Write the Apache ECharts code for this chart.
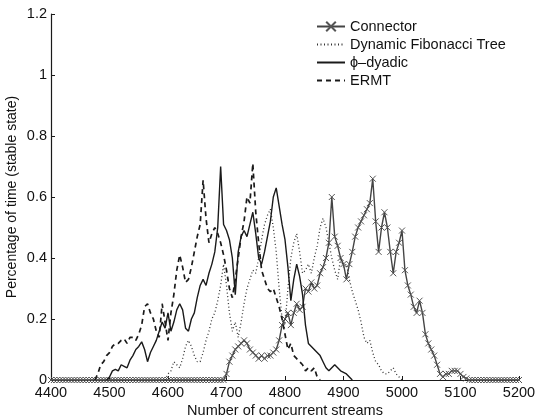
<!DOCTYPE html>
<html>
<head>
<meta charset="utf-8">
<script src="https://cdn.jsdelivr.net/npm/echarts@6/dist/echarts.min.js"></script>
<style>
  html, body { margin: 0; padding: 0; background: #fff; }
  #chart { width: 536px; height: 419px; }
</style>
</head>
<body>
<div id="chart"></div>
<script>
// x sampling step (streams) used by every series
var step = 5;

var xTicks = [4400, 4500, 4600, 4700, 4800, 4900, 5000, 5100, 5200];
var yTicks = [0, 0.2, 0.4, 0.6, 0.8, 1, 1.2];

var names = ['Connector', 'Dynamic Fibonacci Tree', '\u03d5\u2013dyadic', 'ERMT'];

// Connector: 4400 .. 5200
var connectorStart = 4400;
var connectorY = [
    0, 0, 0, 0, 0, 0, 0, 0, 0, 0,
    0, 0, 0, 0, 0, 0, 0, 0, 0, 0,
    0, 0, 0, 0, 0, 0, 0, 0, 0, 0,
    0, 0, 0, 0, 0, 0, 0, 0, 0, 0,
    0, 0, 0, 0, 0, 0, 0, 0, 0, 0,
    0, 0, 0, 0, 0, 0, 0, 0, 0, 0,
    0.02, 0.06, 0.08, 0.10, 0.11, 0.12, 0.13, 0.12, 0.10, 0.09,
    0.08, 0.07, 0.08, 0.07, 0.08, 0.08, 0.09, 0.10, 0.13, 0.18,
    0.20, 0.22, 0.18, 0.22, 0.25, 0.23, 0.24, 0.30, 0.29, 0.32,
    0.30, 0.31, 0.35, 0.37, 0.40, 0.45, 0.60, 0.47, 0.44, 0.40,
    0.38, 0.33, 0.38, 0.42, 0.47, 0.50, 0.52, 0.54, 0.56, 0.58,
    0.66, 0.52, 0.42, 0.50, 0.55, 0.50, 0.42, 0.35, 0.42, 0.45,
    0.49, 0.36, 0.31, 0.28, 0.24, 0.22, 0.26, 0.22, 0.15, 0.12,
    0.10, 0.08, 0.05, 0.02, 0.01, 0.02, 0.02, 0.03, 0.03, 0.03,
    0.02, 0.01, 0.005,
    0, 0, 0, 0, 0, 0, 0, 0, 0, 0,
    0, 0, 0, 0, 0, 0, 0, 0
];

// Dynamic Fibonacci Tree: 4595 .. 5000
var fiboStart = 4595;
var fiboY = [
    0, 0.02, 0.03, 0.06, 0.05, 0.04, 0.07, 0.11, 0.13, 0.11,
    0.08, 0.06, 0.06, 0.09, 0.13, 0.16, 0.20, 0.22, 0.26, 0.31,
    0.38, 0.31, 0.22, 0.16, 0.19, 0.14, 0.19, 0.25, 0.30, 0.33,
    0.36, 0.35, 0.40, 0.46, 0.51, 0.54, 0.56, 0.50, 0.42, 0.30,
    0.20, 0.18, 0.30, 0.40, 0.45, 0.48, 0.42, 0.35, 0.36, 0.38,
    0.35, 0.40, 0.44, 0.50, 0.53, 0.50, 0.45, 0.40, 0.36, 0.33,
    0.40, 0.37, 0.38, 0.33, 0.29, 0.26, 0.23, 0.19, 0.14, 0.12,
    0.13, 0.09, 0.06, 0.05, 0.03, 0.02, 0.02, 0.03, 0.04, 0.02,
    0.01, 0
];

// phi-dyadic: 4495 .. 4915
var dyadicStart = 4495;
var dyadicY = [
    0, 0.01, 0.03, 0.035, 0.03, 0.05, 0.045, 0.04, 0.065, 0.08,
    0.10, 0.11, 0.125, 0.10, 0.06, 0.09, 0.11, 0.13, 0.16, 0.19,
    0.17, 0.22, 0.16, 0.19, 0.23, 0.25, 0.23, 0.17, 0.16, 0.20,
    0.22, 0.27, 0.31, 0.33, 0.31, 0.35, 0.38, 0.42, 0.50, 0.70,
    0.51, 0.49, 0.46, 0.40, 0.28, 0.42, 0.47, 0.49, 0.47, 0.51,
    0.55, 0.48, 0.40, 0.38, 0.42, 0.47, 0.52, 0.60, 0.63, 0.57,
    0.51, 0.46, 0.37, 0.26, 0.33, 0.38, 0.34, 0.28, 0.18, 0.12,
    0.11, 0.10, 0.09, 0.08, 0.06, 0.04, 0.03, 0.04, 0.05, 0.04,
    0.03, 0.025, 0.02, 0.01, 0
];

// ERMT: 4475 .. 4860
var ermtStart = 4475;
var ermtY = [
    0, 0.02, 0.05, 0.06, 0.08, 0.09, 0.11, 0.12, 0.12, 0.13,
    0.135, 0.12, 0.14, 0.14, 0.13, 0.15, 0.18, 0.24, 0.25, 0.22,
    0.20, 0.16, 0.14, 0.25, 0.19, 0.13, 0.22, 0.28, 0.36, 0.41,
    0.37, 0.32, 0.33, 0.37, 0.42, 0.47, 0.51, 0.655, 0.53, 0.45,
    0.48, 0.50, 0.48, 0.45, 0.41, 0.36, 0.30, 0.27, 0.33, 0.40,
    0.47, 0.52, 0.60, 0.58, 0.71, 0.55, 0.45, 0.36, 0.33, 0.30,
    0.29, 0.30, 0.27, 0.24, 0.20, 0.15, 0.10, 0.12, 0.08, 0.07,
    0.06, 0.05, 0.03, 0.04, 0.03, 0.04, 0.01, 0
];

function pairs(start, ys) {
    var out = [];
    for (var i = 0; i < ys.length; i++) {
        out.push([start + i * step, ys[i]]);
    }
    return out;
}

var chart = echarts.init(document.getElementById('chart'), null, { renderer: 'canvas' });

var ink = '#1a1a1a';
var font = 'Liberation Sans, Arial, Helvetica, sans-serif';
var noMark = { opacity: 0 };

var option = {
    animation: false,
    backgroundColor: '#ffffff',
    textStyle: { fontFamily: font },
    grid: { left: 51, right: 17, top: 14, bottom: 39, outerBoundsMode: 'none', containLabel: false },
    legend: {
        orient: 'vertical',
        left: 311,
        top: 14,
        itemWidth: 28,
        itemHeight: 12,
        itemGap: 3,
        data: [
            { name: names[0] },
            { name: names[1], itemStyle: noMark },
            { name: names[2], itemStyle: noMark },
            { name: names[3], itemStyle: noMark }
        ],
        textStyle: { fontFamily: font, fontSize: 14.5, color: '#111' }
    },
    xAxis: {
        type: 'value',
        min: xTicks[0],
        max: xTicks[xTicks.length - 1],
        interval: 100,
        name: 'Number of concurrent streams',
        nameLocation: 'middle',
        nameGap: 23,
        nameMoveOverlap: false,
        nameTextStyle: { fontFamily: font, fontSize: 14.5, color: '#111' },
        splitLine: { show: false },
        axisLine: { show: true, lineStyle: { color: ink, width: 1 } },
        axisTick: { show: true, inside: true, length: 4, lineStyle: { color: ink } },
        axisLabel: {
            fontFamily: font, fontSize: 14.5, color: '#111', margin: 5,
            formatter: function (v) { return String(v); }
        }
    },
    yAxis: {
        type: 'value',
        min: yTicks[0],
        max: yTicks[yTicks.length - 1],
        interval: 0.2,
        name: 'Percentage of time (stable state)',
        nameLocation: 'middle',
        nameGap: 32,
        nameMoveOverlap: false,
        nameTextStyle: { fontFamily: font, fontSize: 14, color: '#111' },
        splitLine: { show: false },
        axisLine: { show: true, lineStyle: { color: ink, width: 1.2 } },
        axisTick: { show: true, inside: true, length: 4, lineStyle: { color: ink } },
        axisLabel: { fontFamily: font, fontSize: 14.5, color: '#111', margin: 4 }
    },
    series: [
        {
            name: names[0],
            type: 'line',
            data: pairs(connectorStart, connectorY),
            symbol: 'path://M0,0L10,10M10,0L0,10',
            symbolSize: 6,
            showSymbol: true,
            itemStyle: { color: 'none', borderColor: '#555', borderWidth: 1 },
            lineStyle: { color: '#444', width: 1.4 },
            z: 2
        },
        {
            name: names[1],
            type: 'line',
            data: pairs(fiboStart, fiboY),
            symbol: 'none',
            itemStyle: { color: ink },
            lineStyle: { color: '#333', width: 1.3, type: [1, 2.5] },
            z: 3
        },
        {
            name: names[2],
            type: 'line',
            data: pairs(dyadicStart, dyadicY),
            symbol: 'none',
            itemStyle: { color: ink },
            lineStyle: { color: ink, width: 1.4 },
            z: 4
        },
        {
            name: names[3],
            type: 'line',
            data: pairs(ermtStart, ermtY),
            symbol: 'none',
            itemStyle: { color: ink },
            lineStyle: { color: ink, width: 1.7, type: [5, 4] },
            z: 5
        }
    ]
};

chart.setOption(option);
</script>
</body>
</html>
